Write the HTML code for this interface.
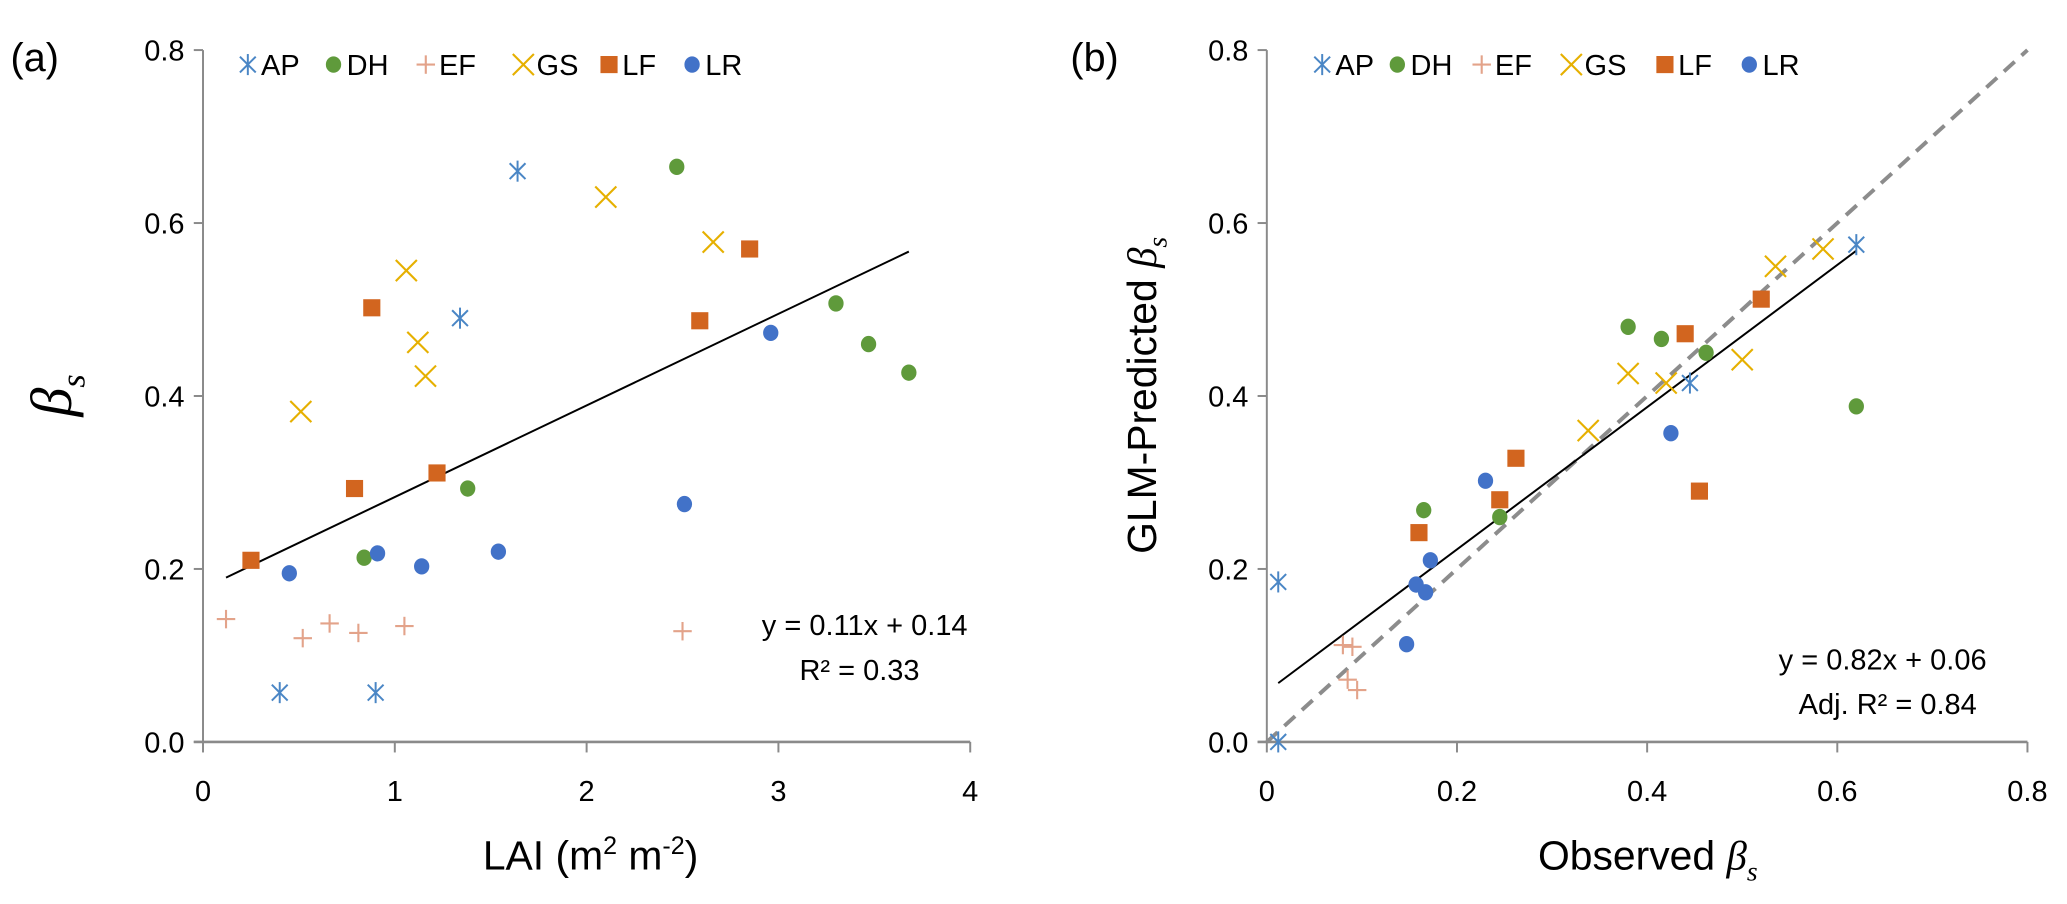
<!DOCTYPE html>
<html><head><meta charset="utf-8"><style>
body{margin:0;background:#fff}
svg{display:block;font-family:"Liberation Sans","DejaVu Sans",sans-serif}
</style></head><body>
<svg id="c" width="2067" height="904" viewBox="0 0 1568 686" preserveAspectRatio="none" xmlns="http://www.w3.org/2000/svg"></svg>
<script>
const groups=["AP","DH","EF","GS","LF","LR"];
const colors={AP:"#4a86c5",DH:"#5f9a3b",EF:"#e3a38a",GS:"#e6b000",LF:"#d2651f",LR:"#4272c8"};
// Panel a: LAI vs beta_s
const aAPx=[1.64,1.34,0.40,0.90], aAPy=[0.66,0.49,0.057,0.057];
const aDHx=[2.47,3.30,3.47,3.68,1.38,0.84], aDHy=[0.665,0.507,0.46,0.427,0.293,0.213];
const aEFx=[0.12,0.52,0.66,0.81,1.05,2.50], aEFy=[0.142,0.12,0.137,0.126,0.134,0.128];
const aGSx=[2.10,2.66,1.06,1.12,1.16,0.51], aGSy=[0.63,0.578,0.545,0.462,0.423,0.382];
const aLFx=[2.85,0.88,2.59,1.22,0.79,0.25], aLFy=[0.57,0.502,0.487,0.311,0.293,0.21];
const aLRx=[2.96,2.51,0.45,0.91,1.14,1.54], aLRy=[0.473,0.275,0.195,0.218,0.203,0.22];
const aTrendX=[0.12,3.68], aTrendY=[0.19,0.567];
const aXTicks=[0,1,2,3,4], yTicks=[0.0,0.2,0.4,0.6,0.8];
// Panel b: observed vs predicted
const bAPx=[0.62,0.445,0.012,0.012], bAPy=[0.575,0.415,0.185,0.0];
const bDHx=[0.38,0.415,0.462,0.165,0.245,0.62], bDHy=[0.48,0.466,0.45,0.268,0.26,0.388];
const bEFx=[0.08,0.09,0.085,0.095], bEFy=[0.112,0.11,0.072,0.06];
const bGSx=[0.535,0.585,0.38,0.42,0.50,0.338], bGSy=[0.55,0.57,0.426,0.415,0.442,0.36];
const bLFx=[0.44,0.52,0.262,0.245,0.16,0.455], bLFy=[0.472,0.512,0.328,0.28,0.242,0.29];
const bLRx=[0.23,0.425,0.172,0.157,0.167,0.147], bLRy=[0.302,0.357,0.21,0.182,0.173,0.113];
const bTrendX=[0.012,0.62], bTrendY=[0.068,0.568];
const bOneX=[0,0.8], bOneY=[0,0.8];
const bXTicks=[0,0.2,0.4,0.6,0.8];

const svg=document.getElementById('c');
const NS="http://www.w3.org/2000/svg";
function el(t,a,p){const e=document.createElementNS(NS,t);for(const k in a)e.setAttribute(k,a[k]);(p||svg).appendChild(e);return e;}
function txt(s,a,p){const e=el('text',a,p);e.textContent=s;return e;}

function marker(g,type,cx,cy,p){
  const c=colors[type];
  if(type==="AP"){
    const m=el('g',{stroke:c,'stroke-width':1.5},p);
    el('line',{x1:cx-6,y1:cy-6,x2:cx+6,y2:cy+6},m);
    el('line',{x1:cx-6,y1:cy+6,x2:cx+6,y2:cy-6},m);
    el('line',{x1:cx,y1:cy-8,x2:cx,y2:cy+8},m);return m;
  }
  if(type==="DH"||type==="LR") return el('ellipse',{cx:cx,cy:cy,rx:5.8,ry:6.2,fill:c},p);
  if(type==="EF"){
    const m=el('g',{stroke:c,'stroke-width':1.6},p);
    el('line',{x1:cx-7,y1:cy,x2:cx+7,y2:cy},m);
    el('line',{x1:cx,y1:cy-7,x2:cx,y2:cy+7},m);return m;
  }
  if(type==="GS"){
    const m=el('g',{stroke:c,'stroke-width':1.6},p);
    el('line',{x1:cx-8,y1:cy-8,x2:cx+8,y2:cy+8},m);
    el('line',{x1:cx-8,y1:cy+8,x2:cx+8,y2:cy-8},m);return m;
  }
  return el('rect',{x:cx-6.5,y:cy-6.5,width:13,height:13,fill:c},p);
}

function panel(name,x0,x1,xmax,xTicks,fmt,data,lines,legendX){
  const y0=563,y1=38;
  const sx=v=>x0+(x1-x0)*v/xmax, sy=v=>y0-(y0-y1)*v/0.8;
  const g=el('g',{});
  
  
  const ax=el('g',{},g);
  
  
  el('line',{x1:x0,y1:y1,x2:x0,y2:y0,stroke:'#8a8a8a','stroke-width':1.5},ax);
  yTicks.forEach(v=>{
    el('line',{x1:x0-7,y1:sy(v),x2:x0,y2:sy(v),stroke:'#8a8a8a','stroke-width':1.5},ax);
    const t=txt(v.toFixed(1),{x:x0-14,y:sy(v)+8,'text-anchor':'end','font-size':22,fill:'#000'},ax);
    
    
  });
  const xa=el('g',{},g);
  
  
  el('line',{x1:x0-7,y1:y0,x2:x1,y2:y0,stroke:'#8a8a8a','stroke-width':2},xa);
  xTicks.forEach(v=>{
    el('line',{x1:sx(v),y1:y0,x2:sx(v),y2:y0+8,stroke:'#8a8a8a','stroke-width':1.5},xa);
    const t=txt(fmt(v),{x:sx(v),y:608,'text-anchor':'middle','font-size':22,fill:'#000'},xa);
    
    
  });
  lines.forEach(L=>{
    const l=el('line',{x1:sx(L.x[0]),y1:sy(L.y[0]),x2:sx(L.x[1]),y2:sy(L.y[1]),stroke:L.c,'stroke-width':L.w},g);
    if(L.dash)l.setAttribute('stroke-dasharray',L.dash);
    
    
  });
  groups.forEach(k=>{
    const xs=data[k][0],ys=data[k][1];
    for(let i=0;i<xs.length;i++){
      const m=marker(g,k,sx(xs[i]),sy(ys[i]),g);
      
      
    }
  });
  const lg=el('g',{},g);
  
  
  groups.forEach((k,i)=>{
    const lx=legendX[i];
    const m=marker(lg,k,lx,49,lg);
    
    
    const t=txt(k,{x:lx+10,y:57,'font-size':22,fill:'#000'},lg);
    
    
  });
}

panel('panel-a',154,736,4,aXTicks,v=>String(v),
 {AP:[aAPx,aAPy],DH:[aDHx,aDHy],EF:[aEFx,aEFy],GS:[aGSx,aGSy],LF:[aLFx,aLFy],LR:[aLRx,aLRy]},
 [{x:aTrendX,y:aTrendY,c:'#000',w:1.5,n:'trend-line-a'}],
 [188,253,323,397,462,525]);
panel('panel-b',961,1538,0.8,bXTicks,v=>v===0?'0':v.toFixed(1),
 {AP:[bAPx,bAPy],DH:[bDHx,bDHy],EF:[bEFx,bEFy],GS:[bGSx,bGSy],LF:[bLFx,bLFy],LR:[bLRx,bLRy]},
 [{x:bOneX,y:bOneY,c:'#8c8c8c',w:3,dash:'11 7',n:'one-to-one-line'},{x:bTrendX,y:bTrendY,c:'#000',w:1.5,n:'trend-line-b'}],
 [1003,1060,1124,1192,1263,1327]);
</script>
<script>
(function(){
const svg=document.getElementById('c');const NS="http://www.w3.org/2000/svg";
function t(s,a,n,inter){const e=document.createElementNS(NS,'text');for(const k in a)e.setAttribute(k,a[k]);e.innerHTML=s;


svg.appendChild(e);return e;}
t('(a)',{x:8,y:54,'font-size':30},'panel-a-label');
t('(b)',{x:812,y:54,'font-size':30},'panel-b-label');
t('LAI (m<tspan font-size="19" dy="-12">2</tspan><tspan dy="12"> m</tspan><tspan font-size="19" dy="-12">-2</tspan><tspan dy="12">)</tspan>',{x:448,y:660,'text-anchor':'middle','font-size':31},'x-axis-title-a');
t('Observed <tspan font-family="Liberation Serif" font-style="italic">β</tspan><tspan font-family="Liberation Serif" font-style="italic" font-size="21" dy="8">s</tspan>',{x:1250,y:660,'text-anchor':'middle','font-size':31},'x-axis-title-b');
t('<tspan font-style="italic">β</tspan><tspan font-style="italic" font-size="26" dy="10">s</tspan>',{x:42,y:312,'text-anchor':'middle','font-size':44,'font-family':'Liberation Serif',transform:'rotate(-90 42 300)'},'y-axis-title-a');
t('GLM-Predicted <tspan font-family="Liberation Serif" font-style="italic">β</tspan><tspan font-family="Liberation Serif" font-style="italic" font-size="21" dy="8">s</tspan>',{x:866,y:300,'text-anchor':'middle','font-size':31,transform:'rotate(-90 866 300)',dy:'0.35em'},'y-axis-title-b');
t('y = 0.11x + 0.14',{x:734,y:482,'text-anchor':'end','font-size':22},'equation-a');
t('R² = 0.33',{x:652,y:516,'text-anchor':'middle','font-size':22},'r-squared-a');
t('y = 0.82x + 0.06',{x:1507,y:508,'text-anchor':'end','font-size':22},'equation-b');
t('Adj. R² = 0.84',{x:1432,y:542,'text-anchor':'middle','font-size':22},'r-squared-b');
})();
</script>
</body></html>
